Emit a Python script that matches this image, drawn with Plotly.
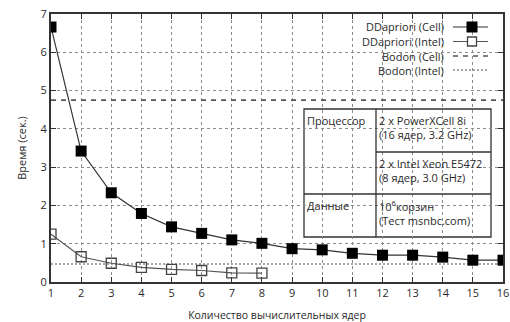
import plotly.graph_objects as go

cores = list(range(1, 17))
dd_cell = [6.66, 3.42, 2.33, 1.79, 1.44, 1.27, 1.10, 1.01, 0.87, 0.84, 0.75, 0.70, 0.70, 0.65, 0.57, 0.57]
cores_intel = list(range(1, 9))
dd_intel = [1.25, 0.66, 0.49, 0.38, 0.33, 0.30, 0.24, 0.23]
bodon_cell = 4.75
bodon_intel = 0.47

legend_names = ["DDapriori (Cell)", "DDapriori (Intel)", "Bodon (Cell)", "Bodon (Intel)"]
x_title = "Количество вычислительных ядер"
y_title = "Время (сек.)"

FONT = "Open Sans"
TXT = "#2a2a2a"
fig = go.Figure()

fig.add_trace(go.Scatter(x=cores, y=[bodon_cell] * len(cores), mode="lines",
                         line=dict(color="#555555", width=1.6, dash="5px,5px"), showlegend=False))
fig.add_trace(go.Scatter(x=cores, y=[bodon_intel] * len(cores), mode="lines",
                         line=dict(color="#8a8a8a", width=1.4, dash="2px,2px"), showlegend=False))
fig.add_trace(go.Scatter(x=cores, y=dd_cell, mode="lines+markers",
                         line=dict(color="#333333", width=1.2),
                         marker=dict(symbol="square", size=11, color="black"), showlegend=False))
fig.add_trace(go.Scatter(x=cores_intel, y=dd_intel, mode="lines+markers",
                         line=dict(color="#555555", width=1.2),
                         marker=dict(symbol="square-open", size=10, color="#444444", line=dict(width=1.3)),
                         showlegend=False))

def px_x(p):
    return (p - 51) / 452.0

def px_y(p):
    return (282 - p) / 268.0

shapes = []
# legend background
shapes.append(dict(type="rect", xref="paper", yref="paper", x0=px_x(318), x1=1, y0=px_y(78), y1=1,
                   fillcolor="white", line=dict(width=0), layer="between"))
# table
tx0, tx1, tmid = px_x(304), px_x(491), px_x(376)
ty0, ty1, ty2, ty3 = px_y(109), px_y(152), px_y(194), px_y(237)
shapes.append(dict(type="rect", xref="paper", yref="paper", x0=tx0, x1=tx1, y0=ty3, y1=ty0,
                   fillcolor="white", line=dict(color="#333333", width=1.3), layer="between"))
shapes.append(dict(type="line", xref="paper", yref="paper", x0=tmid, x1=tmid, y0=ty3, y1=ty0,
                   line=dict(color="#333333", width=1.3)))
shapes.append(dict(type="line", xref="paper", yref="paper", x0=tmid, x1=tx1, y0=ty1, y1=ty1,
                   line=dict(color="#333333", width=1.3)))
shapes.append(dict(type="line", xref="paper", yref="paper", x0=tx0, x1=tx1, y0=ty2, y1=ty2,
                   line=dict(color="#333333", width=1.3)))

# legend samples
lx0, lx1, lmx = px_x(453), px_x(488), px_x(472)
rows = [px_y(27), px_y(41.5), px_y(56), px_y(70)]
shapes.append(dict(type="line", xref="paper", yref="paper", x0=lx0, x1=lx1, y0=rows[0], y1=rows[0],
                   line=dict(color="#333333", width=1.2)))
shapes.append(dict(type="rect", xref="paper", yref="paper", xsizemode="pixel", ysizemode="pixel",
                   xanchor=lmx, yanchor=rows[0], x0=-5.5, x1=5.5, y0=-5.5, y1=5.5,
                   fillcolor="black", line=dict(width=0)))
shapes.append(dict(type="line", xref="paper", yref="paper", x0=lx0, x1=lx1, y0=rows[1], y1=rows[1],
                   line=dict(color="#555555", width=1.2)))
shapes.append(dict(type="rect", xref="paper", yref="paper", xsizemode="pixel", ysizemode="pixel",
                   xanchor=lmx, yanchor=rows[1], x0=-4.5, x1=4.5, y0=-4.5, y1=4.5,
                   fillcolor="white", line=dict(color="#444444", width=1.3)))
shapes.append(dict(type="line", xref="paper", yref="paper", x0=lx0, x1=lx1, y0=rows[2], y1=rows[2],
                   line=dict(color="#555555", width=1.6, dash="5px,5px")))
shapes.append(dict(type="line", xref="paper", yref="paper", x0=lx0, x1=lx1, y0=rows[3], y1=rows[3],
                   line=dict(color="#8a8a8a", width=1.4, dash="2px,2px")))

annotations = []
for name, ry in zip(legend_names, rows):
    annotations.append(dict(text=name, xref="paper", yref="paper", x=px_x(446), y=ry,
                            xanchor="right", yanchor="middle", showarrow=False,
                            font=dict(family=FONT, size=11, color=TXT)))

def cell_text(text, x, y):
    annotations.append(dict(text=text, xref="paper", yref="paper", x=x, y=y, xanchor="left", yanchor="top",
                            align="left", showarrow=False,
                            font=dict(family=FONT, size=11, color=TXT)))

cell_text("Процессор", px_x(305), px_y(111))
cell_text("2 x PowerXCell 8i<br>(16 ядер, 3.2 GHz)", px_x(377), px_y(111))
cell_text("2 x Intel Xeon E5472<br>(8 ядер, 3.0 GHz)", px_x(377), px_y(154))
cell_text("Данные", px_x(305), px_y(196))
cell_text("10<sup>6</sup>корзин<br>(Тест msnbc.com)", px_x(377), px_y(196))

axis_common = dict(showgrid=True, gridcolor="#8c8c8c", griddash="dot", gridwidth=1,
                   showline=True, linecolor="#333333", linewidth=1.8, mirror="allticks",
                   ticks="inside", ticklen=5, tickcolor="#333333", tickwidth=1,
                   zeroline=False, automargin=False, tickfont=dict(family=FONT, size=11, color=TXT))

fig.update_layout(
    width=510, height=322,
    margin=dict(l=51, r=7, t=14, b=40),
    paper_bgcolor="white", plot_bgcolor="white",
    shapes=shapes, annotations=annotations,
    xaxis=dict(range=[1, 16], tickmode="array", tickvals=cores,
               title=dict(text=x_title, font=dict(family=FONT, size=10.5, color=TXT), standoff=13),
               **axis_common),
    yaxis=dict(range=[0, 7], tickmode="array", tickvals=list(range(8)),
               title=dict(text=y_title, font=dict(family=FONT, size=11, color=TXT), standoff=12),
               **axis_common),
    showlegend=False,
)

fig.write_html("out.html")
